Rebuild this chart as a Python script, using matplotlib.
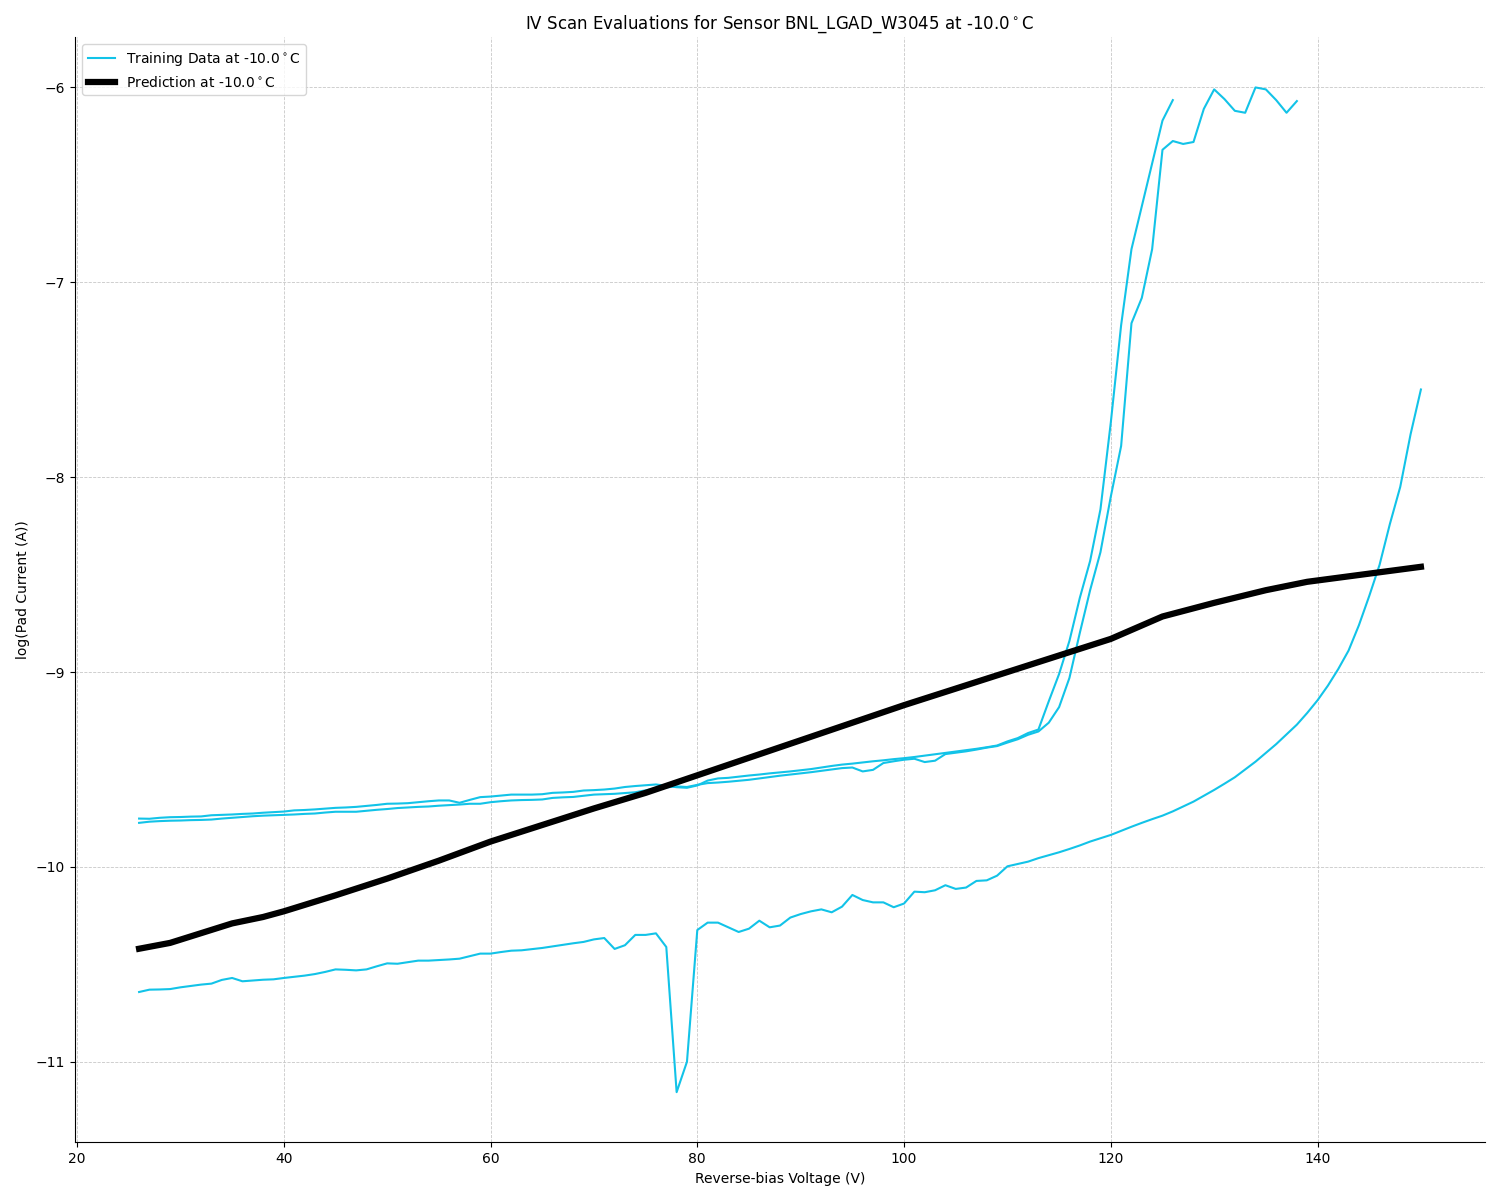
import numpy as np
import matplotlib
matplotlib.use("Agg")
import matplotlib.pyplot as plt

# IV scans, log10 of pad current, one value per volt
scan_a_v = np.arange(26, 127)
scan_a = [-9.752, -9.753, -9.748, -9.745, -9.744, -9.742, -9.741, -9.735, -9.733, -9.731,
          -9.728, -9.726, -9.722, -9.719, -9.716, -9.710, -9.708, -9.705, -9.701, -9.697,
          -9.695, -9.692, -9.687, -9.682, -9.676, -9.675, -9.673, -9.668, -9.663, -9.659,
          -9.659, -9.671, -9.656, -9.642, -9.639, -9.634, -9.629, -9.629, -9.629, -9.627,
          -9.620, -9.618, -9.615, -9.608, -9.606, -9.603, -9.598, -9.590, -9.585, -9.581,
          -9.577, -9.584, -9.591, -9.594, -9.582, -9.557, -9.546, -9.543, -9.537, -9.531,
          -9.526, -9.520, -9.515, -9.510, -9.504, -9.498, -9.490, -9.482, -9.475, -9.470,
          -9.464, -9.458, -9.453, -9.447, -9.442, -9.436, -9.429, -9.422, -9.415, -9.408,
          -9.401, -9.394, -9.386, -9.377, -9.356, -9.339, -9.313, -9.295, -9.150, -9.010,
          -8.840, -8.620, -8.430, -8.165, -7.720, -7.220, -6.830, -6.610, -6.390, -6.170,
          -6.065]

scan_b_v = np.arange(26, 139)
scan_b = [-9.774, -9.768, -9.765, -9.763, -9.762, -9.760, -9.759, -9.757, -9.752, -9.748,
          -9.744, -9.740, -9.737, -9.735, -9.733, -9.731, -9.728, -9.726, -9.721, -9.717,
          -9.717, -9.717, -9.712, -9.707, -9.703, -9.698, -9.695, -9.692, -9.690, -9.686,
          -9.683, -9.680, -9.676, -9.676, -9.668, -9.663, -9.659, -9.657, -9.656, -9.654,
          -9.646, -9.643, -9.641, -9.635, -9.629, -9.627, -9.625, -9.621, -9.617, -9.607,
          -9.596, -9.592, -9.587, -9.590, -9.579, -9.570, -9.567, -9.563, -9.558, -9.553,
          -9.546, -9.539, -9.532, -9.526, -9.520, -9.514, -9.507, -9.500, -9.493, -9.490,
          -9.510, -9.502, -9.467, -9.458, -9.450, -9.445, -9.462, -9.455, -9.421, -9.414,
          -9.407, -9.398, -9.388, -9.380, -9.362, -9.345, -9.322, -9.305, -9.260, -9.180,
          -9.030, -8.800, -8.580, -8.385, -8.100, -7.840, -7.210, -7.080, -6.830, -6.320,
          -6.275, -6.290, -6.280, -6.110, -6.010, -6.060, -6.120, -6.130, -6.000, -6.010,
          -6.065, -6.130, -6.070]

scan_c_v = np.arange(26, 151)
scan_c = [-10.642, -10.630, -10.629, -10.627, -10.618, -10.611, -10.604, -10.599, -10.580, -10.570,
          -10.587, -10.583, -10.579, -10.577, -10.570, -10.564, -10.558, -10.550, -10.539, -10.526,
          -10.528, -10.531, -10.526, -10.510, -10.495, -10.497, -10.489, -10.481, -10.481, -10.478,
          -10.475, -10.471, -10.458, -10.445, -10.445, -10.437, -10.430, -10.428, -10.422, -10.416,
          -10.408, -10.400, -10.392, -10.385, -10.372, -10.365, -10.421, -10.402, -10.349, -10.349,
          -10.341, -10.411, -11.156, -11.000, -10.324, -10.286, -10.286, -10.310, -10.334, -10.317,
          -10.276, -10.310, -10.301, -10.260, -10.242, -10.228, -10.218, -10.233, -10.204, -10.144,
          -10.170, -10.182, -10.182, -10.207, -10.188, -10.127, -10.130, -10.120, -10.094, -10.113,
          -10.106, -10.072, -10.069, -10.045, -9.997, -9.985, -9.973, -9.955, -9.940, -9.925,
          -9.908, -9.890, -9.870, -9.853, -9.836, -9.815, -9.794, -9.774, -9.755, -9.737,
          -9.715, -9.690, -9.665, -9.635, -9.605, -9.573, -9.540, -9.500, -9.460, -9.415,
          -9.370, -9.320, -9.270, -9.210, -9.145, -9.070, -8.985, -8.890, -8.760, -8.610,
          -8.450, -8.240, -8.050, -7.780, -7.550]

# model prediction
pred_v = [26, 29, 32, 35, 38, 40, 45, 50, 55, 60, 65, 70, 75, 80, 85, 90, 95, 100,
          105, 110, 115, 120, 125, 130, 135, 139, 145, 150]
pred = [-10.42, -10.39, -10.34, -10.29, -10.257, -10.228, -10.146, -10.06, -9.968, -9.87,
        -9.785, -9.70, -9.62, -9.53, -9.44, -9.35, -9.26, -9.17, -9.085, -9.00,
        -8.915, -8.83, -8.715, -8.645, -8.58, -8.537, -8.495, -8.46]

temp = "-10.0$^\\circ$C"
cyan = '#12c3e8'

fig, ax = plt.subplots(figsize=(15, 12), dpi=100)
fig.subplots_adjust(left=0.05, right=0.99, top=0.969, bottom=0.048)

ax.plot(scan_a_v, scan_a, color=cyan, lw=1.5, label=f"Training Data at {temp}")
ax.plot(scan_b_v, scan_b, color=cyan, lw=1.5)
ax.plot(scan_c_v, scan_c, color=cyan, lw=1.5)
ax.plot(pred_v, pred, color='black', lw=4.5, label=f"Prediction at {temp}")

ax.set_title(f"IV Scan Evaluations for Sensor BNL_LGAD_W3045 at {temp}")
ax.set_xlabel("Reverse-bias Voltage (V)")
ax.set_ylabel("log(Pad Current (A))")
ax.grid(True, linestyle='--', linewidth=0.6, color='#c8c8c8')
ax.spines['top'].set_visible(False)
ax.spines['right'].set_visible(False)
ax.legend(loc='upper left')

plt.savefig("out.png")
